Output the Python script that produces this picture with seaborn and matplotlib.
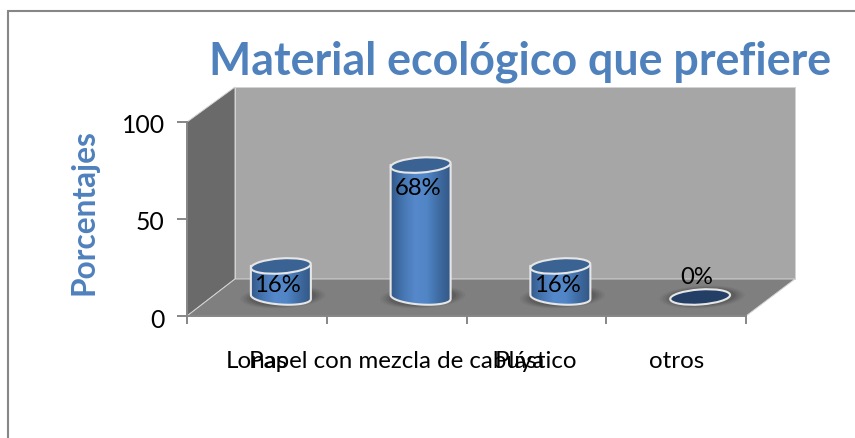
import numpy as np
import pandas as pd
import matplotlib
matplotlib.use("Agg")
import matplotlib.pyplot as plt
import seaborn as sns
from matplotlib.patches import Polygon, Ellipse, PathPatch
from matplotlib.path import Path
from matplotlib.lines import Line2D
from matplotlib.transforms import Affine2D, ScaledTranslation, IdentityTransform
from matplotlib.colors import LinearSegmentedColormap

categories = ["Lonas", "Papel con mezcla de cabuya", "Plástico", "otros"]
values = [16, 68, 16, 0]
y_ticks = [0, 50, 100]
title = "Material ecológico que prefiere"
y_title = "Porcentajes"

BLUE = "#4F81BD"
GRID = "#868686"
W, H = 855, 438

sns.set_theme(style="white")
plt.rcParams["font.family"] = ["Lato", "DejaVu Sans"]

fig = plt.figure(figsize=(W / 100, H / 100), dpi=100, facecolor="white")
ax = fig.add_axes([187 / W, 1 - 316 / H, (746 - 187) / W, (316 - 122) / H])
ax.patch.set_visible(False)

df = pd.DataFrame({"cat": categories, "val": values})
sns.barplot(data=df, x="cat", y="val", color=BLUE, width=60 / 139.75, saturation=1,
            ax=ax, zorder=5)
ax.set_xlim(-0.5, 3.5)
ax.set_ylim(0, 100)
ax.set_xlabel("")
ax.set_ylabel("")

# reference-pixel transform for the 3-D box decoration
px = Affine2D().scale(1 / W, -1 / H).translate(0, 1) + fig.transFigure
box = [
    ([(235, 87), (795, 87), (795, 279), (235, 279)], "#A6A6A6"),
    ([(187, 122), (235, 87), (235, 279), (187, 316)], "#6A6A6A"),
    ([(187, 316), (235, 279), (795, 279), (746, 316)], "#7F7F7F"),
]
for pts, c in box:
    ax.add_patch(Polygon(pts, closed=True, facecolor=c, edgecolor="#D4D4D4", lw=0.7,
                         transform=px, clip_on=False, zorder=0))

for xy in ([(8, 11), (8, H)], [(8, 11), (W, 11)]):
    xs, ys = zip(*xy)
    fig.add_artist(Line2D(xs, ys, transform=px, color=GRID, lw=1.5))

# axes
for s in ("top", "right"):
    ax.spines[s].set_visible(False)
for s in ("left", "bottom"):
    ax.spines[s].set_color(GRID)
    ax.spines[s].set_linewidth(1.4)
    ax.spines[s].set_zorder(2)
ax.set_yticks(y_ticks)
ax.set_xticks(range(len(categories)))
ax.set_xticklabels(categories)
ax.set_xticks(np.arange(-0.5, len(categories)), minor=True)
ax.tick_params(axis="y", which="major", length=7, width=1.4, color=GRID, left=True,
               labelsize=17.8, labelcolor="black", pad=9)
ax.tick_params(axis="x", which="minor", length=6, width=1.4, color=GRID, bottom=True)
ax.tick_params(axis="x", which="major", length=0, labelsize=17.4, labelcolor="black", pad=25.5)
nudge = ScaledTranslation(0, -2 / 100, fig.dpi_scale_trans)
for lab in ax.get_yticklabels():
    lab.set_transform(lab.get_transform() + nudge)

# cylinders: seaborn bars shifted to mid-depth of the floor
depth = ScaledTranslation(24 / 100, 19 / 100, fig.dpi_scale_trans)
tr = ax.transData + depth
cmap = LinearSegmentedColormap.from_list(
    "cyl", ["#34598A", "#4676B2", "#5689CB", "#5085C6", "#3F6CA3", "#335885"])
grad = np.linspace(0, 1, 128).reshape(1, -1)
EH = 15.0
for bar, v in zip(ax.patches[:len(values)], values):
    x0 = bar.get_x()
    bw = bar.get_width()
    xc = x0 + bw / 2
    (lx, by) = tr.transform((x0, 0))
    (rx, ty) = tr.transform((x0 + bw, v))
    cx = (lx + rx) / 2
    ew = rx - lx
    bar.set_transform(tr)
    bar.set_visible(False)
    for g, a in [(1.42, .07), (1.32, .10), (1.22, .14), (1.12, .18)]:
        ax.add_patch(Ellipse((cx + 2, by + 0), ew * g, EH * g * 1.05, angle=3, facecolor="#333333",
                             alpha=a, edgecolor="none", transform=IdentityTransform(),
                             clip_on=False, zorder=3))
    if v > 0:
        t = np.linspace(np.pi, 2 * np.pi, 40)
        low = np.c_[cx + ew / 2 * np.cos(t), by + EH / 2 * np.sin(t) - 2 * np.cos(t)]
        verts = np.vstack([[(lx, ty)], low, [(rx, ty)], [(lx, ty)]])
        outline = Path(verts, closed=True)
        body = PathPatch(outline, transform=IdentityTransform(), facecolor="none",
                         edgecolor="#E6E6E6", lw=1.5, clip_on=False, zorder=7)
        ax.add_patch(body)
        im = ax.imshow(grad, cmap=cmap, extent=(lx, rx, by - EH, ty), aspect="auto",
                       transform=IdentityTransform(), zorder=6, clip_on=True)
        im.set_clip_path(outline, IdentityTransform())
    fc = "#3A6292" if v > 0 else "#243F66"
    ax.add_patch(Ellipse((cx, ty), ew, EH, angle=4, facecolor=fc, edgecolor="#E6E6E6",
                         lw=1.5, transform=IdentityTransform(), clip_on=False, zorder=8))
    dy = 19 if v == 0 else (-20 if v < 50 else -23)
    ax.annotate(f"{v}%", (xc, v), xycoords=tr, xytext=(-3 * 0.72, dy * 0.72),
                textcoords="offset points", ha="center", va="center", fontsize=17.2,
                color="black", zorder=10)

ax.set_xlim(-0.5, 3.5)
ax.set_ylim(0, 100)
ax.set_aspect("auto")

fig.text(520 / W, 1 - 62 / H, title, ha="center", va="center", fontsize=32.2,
         fontweight="bold", color=BLUE)
fig.text(84 / W, 1 - 212 / H, y_title, ha="center", va="center", rotation=90,
         fontsize=22.8, fontweight="bold", color=BLUE)

fig.savefig("out.png", dpi=100)
